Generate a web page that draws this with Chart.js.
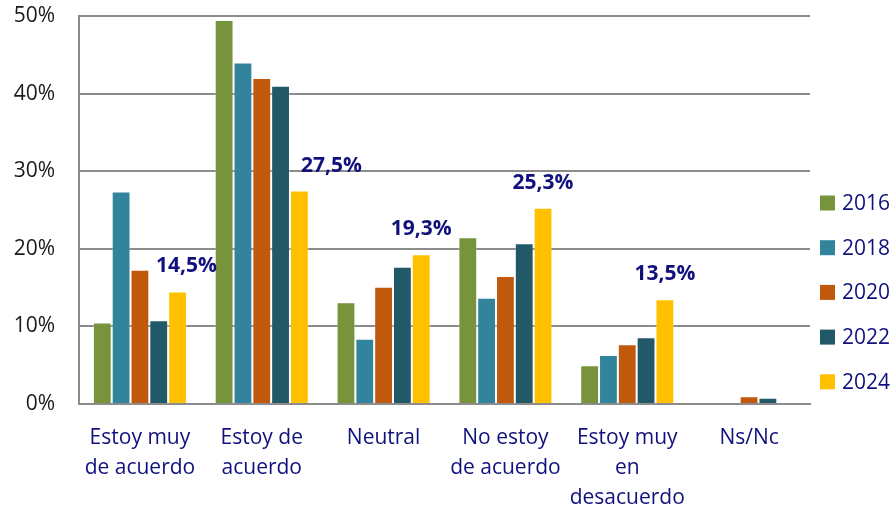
<!DOCTYPE html>
<html lang="es">
<head>
    <meta charset="UTF-8">
    <title>Grado de acuerdo</title>
    <script src="https://cdn.jsdelivr.net/npm/chart.js"></script>
    <style>
        html, body { margin: 0; padding: 0; background: #fff; }
        .canvas { width: 892px; height: 510px; }
    </style>
</head>
<body>
    <div class="canvas">
        <canvas id="grafico1" width="892" height="510"></canvas>
    </div>
    <script>
        // categorias (cada linea del array es una linea de la etiqueta)
        const categorias = [
            ['Estoy muy', 'de acuerdo'],
            ['Estoy de', 'acuerdo'],
            'Neutral',
            ['No estoy', 'de acuerdo'],
            ['Estoy muy', 'en', 'desacuerdo'],
            'Ns/Nc'
        ]
        const anios = ['2016', '2018', '2020', '2022', '2024']
        const v2016 = [10.5, 49.5, 13.1, 21.5, 5.0, 0]
        const v2018 = [27.4, 44.0, 8.4, 13.7, 6.3, 0]
        const v2020 = [17.3, 42.0, 15.1, 16.5, 7.7, 1.0]
        const v2022 = [10.8, 41.0, 17.7, 20.7, 8.6, 0.8]
        const v2024 = [14.5, 27.5, 19.3, 25.3, 13.5, 0]
        const ticksY = [0, 10, 20, 30, 40, 50]

        const colores = ['#77933c', '#31849b', '#c0590b', '#215968', '#ffc000']
        const azul = '#11117d'
        const fuente = '"Open Sans", sans-serif'

        // desplazamiento horizontal de las etiquetas de 2024 para que no pisen las barras vecinas
        const despEtiqueta = [9, 32, 0, 0, 0, 0]

        const etiquetas2024 = {
            id: 'etiquetas2024',
            afterDatasetsDraw(chart) {
                const c = chart.ctx
                const meta = chart.getDatasetMeta(4)
                c.save()
                c.font = 'bold 21px ' + fuente
                c.fillStyle = azul
                c.textAlign = 'center'
                c.textBaseline = 'middle'
                meta.data.forEach((bar, i) => {
                    const v = v2024[i]
                    if (!v) return
                    c.fillText(v.toFixed(1).replace('.', ',') + '%', bar.x + despEtiqueta[i], bar.y - 25)
                })
                c.restore()
            }
        }

        const leyenda = {
            id: 'leyenda',
            afterDraw(chart) {
                const c = chart.ctx
                c.save()
                c.font = '21px ' + fuente
                c.textBaseline = 'middle'
                chart.data.datasets.forEach((ds, i) => {
                    const y = 203 + i * 44.7
                    c.fillStyle = ds.backgroundColor
                    c.fillRect(820, y - 7.5, 15, 15)
                    c.fillStyle = azul
                    c.fillText(ds.label, 842, y + 1)
                })
                c.restore()
            }
        }

        const ctx = document.getElementById('grafico1')
        const series = [v2016, v2018, v2020, v2022, v2024]

        new Chart(ctx, {
            type: 'bar',
            data: {
                labels: categorias,
                datasets: series.map((vals, i) => ({
                    label: anios[i],
                    data: vals,
                    backgroundColor: colores[i],
                    borderColor: 'rgba(255,255,255,0.3)',
                    borderWidth: 1,
                    barPercentage: 1,
                    categoryPercentage: 0.772
                }))
            },
            options: {
                responsive: false,
                animation: false,
                layout: { padding: { top: 16, right: 82, left: 0, bottom: 0 } },
                plugins: {
                    legend: { display: false },
                    tooltip: { enabled: false }
                },
                scales: {
                    x: {
                        grid: { display: false, drawTicks: false },
                        border: { color: '#8c8c8c', width: 2 },
                        ticks: {
                            color: azul,
                            font: { family: fuente, size: 21, lineHeight: 1.42 },
                            padding: 19,
                            maxRotation: 0,
                            autoSkip: false
                        },
                        afterFit(s) { s.height = 106 }
                    },
                    y: {
                        min: 0,
                        max: 50,
                        afterBuildTicks(s) { s.ticks = ticksY.map(v => ({ value: v })) },
                        grid: { color: '#8c8c8c', lineWidth: 2, drawTicks: false },
                        border: { color: '#8c8c8c', width: 2 },
                        ticks: {
                            color: '#1a1a1a',
                            font: { family: fuente, size: 21 },
                            padding: 24,
                            callback: v => v + '%'
                        },
                        afterFit(s) {
                            s.width = 79
                            s.paddingTop = 0
                            s.paddingBottom = 0
                        }
                    }
                }
            },
            plugins: [etiquetas2024, leyenda]
        })
    </script>
</body>
</html>
